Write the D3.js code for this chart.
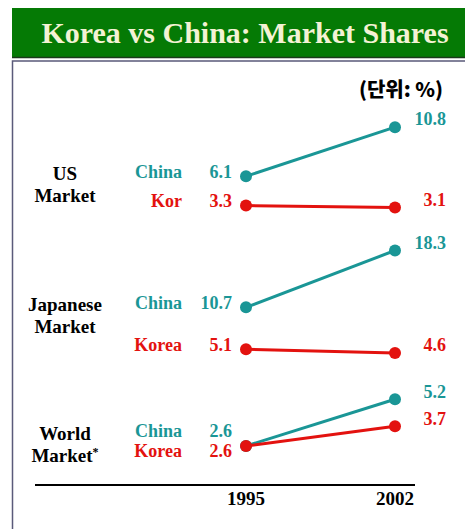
<!DOCTYPE html>
<html>
<head>
<meta charset="utf-8">
<script src="https://cdn.jsdelivr.net/npm/d3@7"></script>
<style>
  body { margin: 0; background: #fff; }
  svg text { font-family: "Liberation Serif", "Times New Roman", serif; font-weight: bold; }
</style>
</head>
<body>
<svg id="chart" width="465" height="529"></svg>
<script>
'use strict';

/* -- Data ------------------------------------------------------------------ */
const years = ['1995', '2002'];
const marketNames = [['US', 'Market'], ['Japanese', 'Market'], ['World', 'Market*']];
const chinaNames = ['China', 'China', 'China'];
const koreaNames = ['Kor', 'Korea', 'Korea'];
const chinaValues = [[6.1, 10.8], [10.7, 18.3], [2.6, 5.2]];
const koreaValues = [[3.3, 3.1], [5.1, 4.6], [2.6, 3.7]];
const titleText = 'Korea vs China: Market Shares';
const unitText = '(단위: %)';

/* -- Layout ---------------------------------------------------------------- */
const W = 465, H = 529;
const teal = '#1a9696';
const red = '#e3120f';

// every panel gets its own value scale (the source is a hand drawn slide)
const panels = [
    { domain: [0, 12], range: [240, 114.6] },
    { domain: [0, 20], range: [387.4, 237.8] },
    { domain: [0, 6],  range: [492.8, 384.8] }
];

const svg = d3.select('#chart');

/* -- Title bar and frame --------------------------------------------------- */
svg.append('rect')
    .attr('x', 12.5).attr('y', 61).attr('width', W).attr('height', H)
    .attr('fill', '#fff').attr('stroke', '#5a5a7a').attr('stroke-width', 1.5);

svg.append('rect')
    .attr('x', 12).attr('y', 8).attr('width', W).attr('height', 49)
    .attr('fill', '#057a05');
svg.append('line')
    .attr('x1', 12).attr('x2', W).attr('y1', 57.5).attr('y2', 57.5)
    .attr('stroke', '#1c3a1c').attr('stroke-width', 1.5);

svg.append('text')
    .attr('x', 245).attr('y', 42.5)
    .attr('text-anchor', 'middle')
    .attr('fill', '#f4f2d4')
    .style('font-size', '30px')
    .text(titleText);

svg.append('text')
    .attr('x', 443).attr('y', 90).attr('dy', '0.35em')
    .attr('text-anchor', 'end')
    .style('font-family', '"Noto Sans CJK KR", sans-serif')
    .style('font-weight', '900')
    .style('font-size', '20px')
    .text(unitText);

/* -- X scale --------------------------------------------------------------- */
const x = d3.scalePoint().domain(years).range([246, 395]);

const line = d3.line()
    .x(function(d) { return x(d.year); })
    .y(function(d) { return d.y; });

/* -- Panels ---------------------------------------------------------------- */
panels.forEach(function(p, i) {
    const y = d3.scaleLinear().domain(p.domain).range(p.range);
    const g = svg.append('g').attr('class', 'panel');

    const series = [
        { name: chinaNames[i], values: chinaValues[i], color: teal },
        { name: koreaNames[i], values: koreaValues[i], color: red }
    ];
    series.forEach(function(s) {
        s.pts = s.values.map(function(v, j) { return { year: years[j], v: v, y: y(v) }; });
    });

    // left labels: spread them apart if they would collide
    let ly0 = series[0].pts[0].y - 5;
    let ly1 = series[1].pts[0].y - 5;
    if (ly1 - ly0 < 20) {
        const mid = (ly0 + ly1) / 2;
        ly0 = mid - 10;
        ly1 = mid + 10;
    }
    series[0].ly = ly0;
    series[1].ly = ly1;

    series.forEach(function(s) {
        g.append('path')
            .datum(s.pts)
            .attr('d', line)
            .attr('fill', 'none')
            .attr('stroke', s.color)
            .attr('stroke-width', 3);

        g.selectAll(null)
            .data(s.pts)
            .enter()
            .append('circle')
            .attr('cx', function(d) { return x(d.year); })
            .attr('cy', function(d) { return d.y; })
            .attr('r', 6)
            .attr('fill', s.color);

        g.append('text')
            .attr('x', 182).attr('y', s.ly).attr('dy', '0.35em')
            .attr('text-anchor', 'end')
            .attr('fill', s.color)
            .style('font-size', '18px')
            .text(s.name);

        g.append('text')
            .attr('x', 232).attr('y', s.ly).attr('dy', '0.35em')
            .attr('text-anchor', 'end')
            .attr('fill', s.color)
            .style('font-size', '18px')
            .text(s.values[0]);

        g.append('text')
            .attr('x', 446).attr('y', s.pts[1].y - 8).attr('dy', '0.35em')
            .attr('text-anchor', 'end')
            .attr('fill', s.color)
            .style('font-size', '18px')
            .text(s.values[1]);
    });

    // market name, two lines; a trailing * is set as a superscript
    const names = g.selectAll(null)
        .data(marketNames[i])
        .enter()
        .append('text')
        .attr('x', 65)
        .attr('y', function(d, k) { return ly0 + 2 + k * 22; })
        .attr('dy', '0.35em')
        .attr('text-anchor', 'middle')
        .attr('fill', '#000')
        .style('font-size', '19px');
    names.append('tspan')
        .text(function(d) { return d.replace('*', ''); });
    names.filter(function(d) { return d.indexOf('*') >= 0; })
        .append('tspan')
        .attr('dy', '-0.45em')
        .style('font-size', '12px')
        .text('*');
});

/* -- Bottom axis ----------------------------------------------------------- */
svg.append('line')
    .attr('x1', 35).attr('x2', 415).attr('y1', 485).attr('y2', 485)
    .attr('stroke', '#000').attr('stroke-width', 2);

svg.selectAll('.year')
    .data(years)
    .enter()
    .append('text')
    .attr('class', 'year')
    .attr('x', function(d) { return x(d); })
    .attr('y', 498).attr('dy', '0.35em')
    .attr('text-anchor', 'middle')
    .style('font-size', '19px')
    .text(function(d) { return d; });
</script>
</body>
</html>
